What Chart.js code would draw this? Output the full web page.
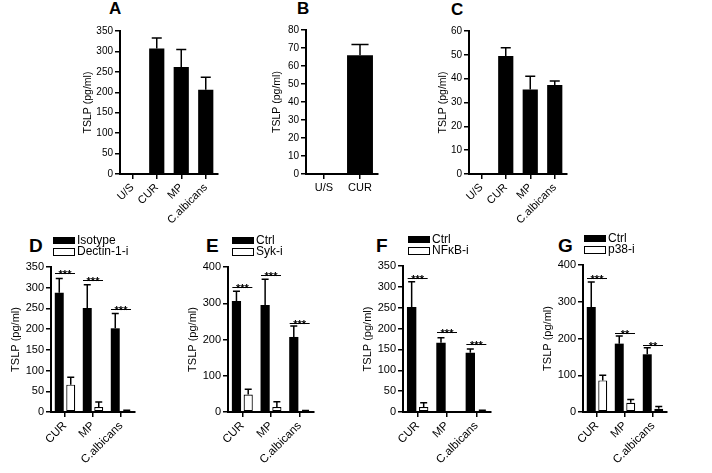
<!DOCTYPE html>
<html>
<head>
<meta charset="utf-8">
<script src="https://cdn.jsdelivr.net/npm/chart.js@4.4.1/dist/chart.umd.min.js"></script>
<style>
  body { margin: 0; background: #fff; width: 712px; height: 473px; position: relative; overflow: hidden; font-family: "Liberation Sans", Arial, sans-serif; }
  canvas { position: absolute; }
  .lettera { position: absolute; font-weight: bold; color: #000; line-height: 1; }
</style>
</head>
<body>
<div class="lettera" style="left:109px;top:0px;font-size:17px">A</div>
<div class="lettera" style="left:297px;top:0px;font-size:17px">B</div>
<div class="lettera" style="left:451px;top:1px;font-size:17px">C</div>
<div class="lettera" style="left:29px;top:236px;font-size:19px">D</div>
<div class="lettera" style="left:206px;top:236px;font-size:19px">E</div>
<div class="lettera" style="left:376px;top:236px;font-size:19px">F</div>
<div class="lettera" style="left:558px;top:236px;font-size:19px">G</div>
<script>
// DATI PANNELLI A-C (media e SEM)
const catA = ['U/S', 'CUR', 'MP', 'C.albicans'];
const valA = [0, 307, 262, 206];
const errA = [0, 26, 43, 31];

const catB = ['U/S', 'CUR'];
const valB = [0, 66];
const errB = [0, 6];

const catC = ['U/S', 'CUR', 'MP', 'C.albicans'];
const valC = [0, 49.5, 35.5, 37.3];
const errC = [0, 3.5, 5.5, 1.7];

// DATI PANNELLI D-G (ctrl vs inibitore)
const catInib = ['CUR', 'MP', 'C.albicans'];

const ctrlD = [288, 251, 202];
const errCtrlD = [34, 56, 36];
const inibD = [66, 12, 2];
const errInibD = [18, 12, 2];
const sigD = ['***', '***', '***'];
const livSigD = [336, 319, 248];

const ctrlE = [306, 295, 207];
const errCtrlE = [27, 71, 30];
const inibE = [48, 14, 3];
const errInibE = [15, 14, 1];
const sigE = ['***', '***', '***'];
const livSigE = [346, 378, 246];

const ctrlF = [252, 166, 142];
const errCtrlF = [60, 12, 9];
const inibF = [12, 0, 3];
const errInibF = [10, 0, 1];
const sigF = ['***', '***', '***'];
const livSigF = [322, 191, 164];

const ctrlG = [286, 186, 157];
const errCtrlG = [68, 21, 18];
const inibG = [86, 25, 9];
const errInibG = [14, 9, 6];
const sigG = ['***', '**', '**'];
const livSigG = [364, 214, 181];

// limiti asse y
const maxA = 350, passoA = 50;
const maxB = 80, passoB = 10;
const maxC = 60, passoC = 10;
const maxD = 350, passoD = 50;
const maxE = 400, passoE = 100;
const maxF = 350, passoF = 50;
const maxG = 400, passoG = 100;

const FONT = '"Liberation Sans", Arial, sans-serif';

// PLUGIN: barre di errore, linee di significativita', legenda
function extraPlugin(p) {
  return {
    id: 'extra_' + p.id,
    afterDatasetsDraw(chart) {
      const ctx = chart.ctx, xs = chart.scales.x, ys = chart.scales.y;
      ctx.save();
      ctx.strokeStyle = '#000';
      ctx.lineWidth = 1.5;
      chart.data.datasets.forEach((ds, i) => {
        chart.getDatasetMeta(i).data.forEach((bar, j) => {
          const e = ds.err ? ds.err[j] : 0;
          if (!e) return;
          const yTop = ys.getPixelForValue(ds.data[j] + e);
          const half = Math.max(3.5, bar.width * 0.33);
          ctx.beginPath();
          ctx.moveTo(bar.x, bar.y);
          ctx.lineTo(bar.x, yTop);
          ctx.moveTo(bar.x - half, yTop);
          ctx.lineTo(bar.x + half, yTop);
          ctx.stroke();
        });
      });

      if (p.sig) {
        ctx.lineWidth = 1;
        ctx.fillStyle = '#000';
        ctx.font = 'bold 11px ' + FONT;
        ctx.textAlign = 'center';
        ctx.textBaseline = 'alphabetic';
        p.sig.forEach((t, j) => {
          const cx = xs.getPixelForValue(j);
          const cy = Math.round(ys.getPixelForValue(p.livSig[j])) + 0.5;
          ctx.beginPath();
          ctx.moveTo(cx - 10, cy);
          ctx.lineTo(cx + 10, cy);
          ctx.stroke();
          ctx.fillText(t, cx, cy + 4);
        });
      }

      if (p.legX !== undefined) {
        const a = chart.chartArea;
        const lx = a.left + p.legX;
        const righe = [a.top - 30, a.top - 19];
        ctx.font = '12px ' + FONT;
        ctx.textAlign = 'left';
        ctx.textBaseline = 'middle';
        chart.data.datasets.forEach((ds, i) => {
          const ty = righe[i];
          if (i === 0) {
            ctx.fillStyle = '#000';
            ctx.fillRect(lx, ty, 22, 7);
          } else {
            ctx.fillStyle = '#fff';
            ctx.fillRect(lx, ty, 22, 8);
            ctx.lineWidth = 1;
            ctx.strokeStyle = '#000';
            ctx.strokeRect(lx + 0.5, ty + 0.5, 21, 7);
          }
          ctx.fillStyle = '#000';
          ctx.fillText(ds.label, lx + 24, ty + 4);
        });
      }
      ctx.restore();
    }
  };
}

function disegnaPannello(p) {
  const c = document.createElement('canvas');
  c.width = p.w; c.height = p.h;
  c.style.left = p.left + 'px';
  c.style.top = p.top + 'px';
  c.style.width = p.w + 'px';
  c.style.height = p.h + 'px';
  document.body.appendChild(c);

  new Chart(c, {
    type: 'bar',
    data: { labels: p.labels, datasets: p.datasets },
    options: {
      responsive: false,
      animation: false,
      devicePixelRatio: 1,
      layout: { padding: { top: p.plotTop - p.top, right: p.left + p.w - p.plotRight, left: 0, bottom: 0 } },
      plugins: { legend: { display: false }, tooltip: { enabled: false } },
      scales: {
        x: {
          grid: { offset: false, drawOnChartArea: false, color: '#000', lineWidth: 1.5, tickLength: 5 },
          border: { color: '#000', width: 2 },
          ticks: { color: '#000', font: { family: FONT, size: p.xFont }, minRotation: p.rot, maxRotation: p.rot, autoSkip: false, padding: 2 },
          afterFit: s => { s.height = p.top + p.h - p.plotBottom; }
        },
        y: {
          min: 0, max: p.yMax,
          grid: { drawOnChartArea: false, color: '#000', lineWidth: 1.5, tickLength: 5 },
          border: { color: '#000', width: 2 },
          ticks: { stepSize: p.step, color: '#000', font: { family: FONT, size: p.yFont }, padding: 2 },
          title: { display: true, text: 'TSLP (pg/ml)', color: '#000', font: { family: FONT, size: p.tFont }, padding: 0 },
          afterFit: s => { s.width = p.axisX - p.left; }
        }
      }
    },
    plugins: [extraPlugin(p)]
  });
}

function singolo(val, err, perc) {
  return [{ label: 'TSLP', data: val, err: err, backgroundColor: '#000', borderWidth: 0, categoryPercentage: 1, barPercentage: perc }];
}

function doppio(nomeCtrl, ctrl, errCtrl, nomeInib, inib, errInib) {
  return [
    { label: nomeCtrl, data: ctrl, err: errCtrl, backgroundColor: '#000', borderWidth: 0, categoryPercentage: 0.82, barPercentage: 0.78 },
    { label: nomeInib, data: inib, err: errInib, backgroundColor: '#fff', borderColor: '#000', borderWidth: 1.2, borderSkipped: false, categoryPercentage: 0.82, barPercentage: 0.78 }
  ];
}

// PANNELLI IN ALTO
disegnaPannello({ id: 'A', left: 82, top: 20, w: 150, h: 215, axisX: 120, plotTop: 31, plotBottom: 174, plotRight: 218,
  labels: catA, datasets: singolo(valA, errA, 0.62), yMax: maxA, step: passoA, rot: 45, xFont: 11, yFont: 10, tFont: 10.5 });
disegnaPannello({ id: 'B', left: 271, top: 20, w: 125, h: 215, axisX: 306, plotTop: 30, plotBottom: 174, plotRight: 378,
  labels: catB, datasets: singolo(valB, errB, 0.72), yMax: maxB, step: passoB, rot: 0, xFont: 11, yFont: 10, tFont: 10.5 });
disegnaPannello({ id: 'C', left: 437, top: 20, w: 145, h: 215, axisX: 469, plotTop: 31, plotBottom: 174, plotRight: 567,
  labels: catC, datasets: singolo(valC, errC, 0.62), yMax: maxC, step: passoC, rot: 45, xFont: 11, yFont: 10, tFont: 10.5 });

// PANNELLI IN BASSO
disegnaPannello({ id: 'D', left: 9, top: 228, w: 145, h: 245, axisX: 51, plotTop: 267, plotBottom: 412, plotRight: 135,
  labels: catInib, datasets: doppio('Isotype', ctrlD, errCtrlD, 'Dectin-1-i', inibD, errInibD),
  yMax: maxD, step: passoD, rot: 45, xFont: 11.5, yFont: 11, tFont: 11, sig: sigD, livSig: livSigD, legX: 2 });
disegnaPannello({ id: 'E', left: 186, top: 228, w: 140, h: 245, axisX: 228, plotTop: 267, plotBottom: 412, plotRight: 314,
  labels: catInib, datasets: doppio('Ctrl', ctrlE, errCtrlE, 'Syk-i', inibE, errInibE),
  yMax: maxE, step: passoE, rot: 45, xFont: 11.5, yFont: 11, tFont: 11, sig: sigE, livSig: livSigE, legX: 4 });
disegnaPannello({ id: 'F', left: 361, top: 228, w: 140, h: 245, axisX: 403, plotTop: 266, plotBottom: 412, plotRight: 491,
  labels: catInib, datasets: doppio('Ctrl', ctrlF, errCtrlF, 'NF\u03BAB-i', inibF, errInibF),
  yMax: maxF, step: passoF, rot: 45, xFont: 11.5, yFont: 11, tFont: 11, sig: sigF, livSig: livSigF, legX: 5 });
disegnaPannello({ id: 'G', left: 541, top: 228, w: 140, h: 245, axisX: 583, plotTop: 265, plotBottom: 412, plotRight: 667,
  labels: catInib, datasets: doppio('Ctrl', ctrlG, errCtrlG, 'p38-i', inibG, errInibG),
  yMax: maxG, step: passoG, rot: 45, xFont: 11.5, yFont: 11, tFont: 11, sig: sigG, livSig: livSigG, legX: 1 });
</script>
</body>
</html>
